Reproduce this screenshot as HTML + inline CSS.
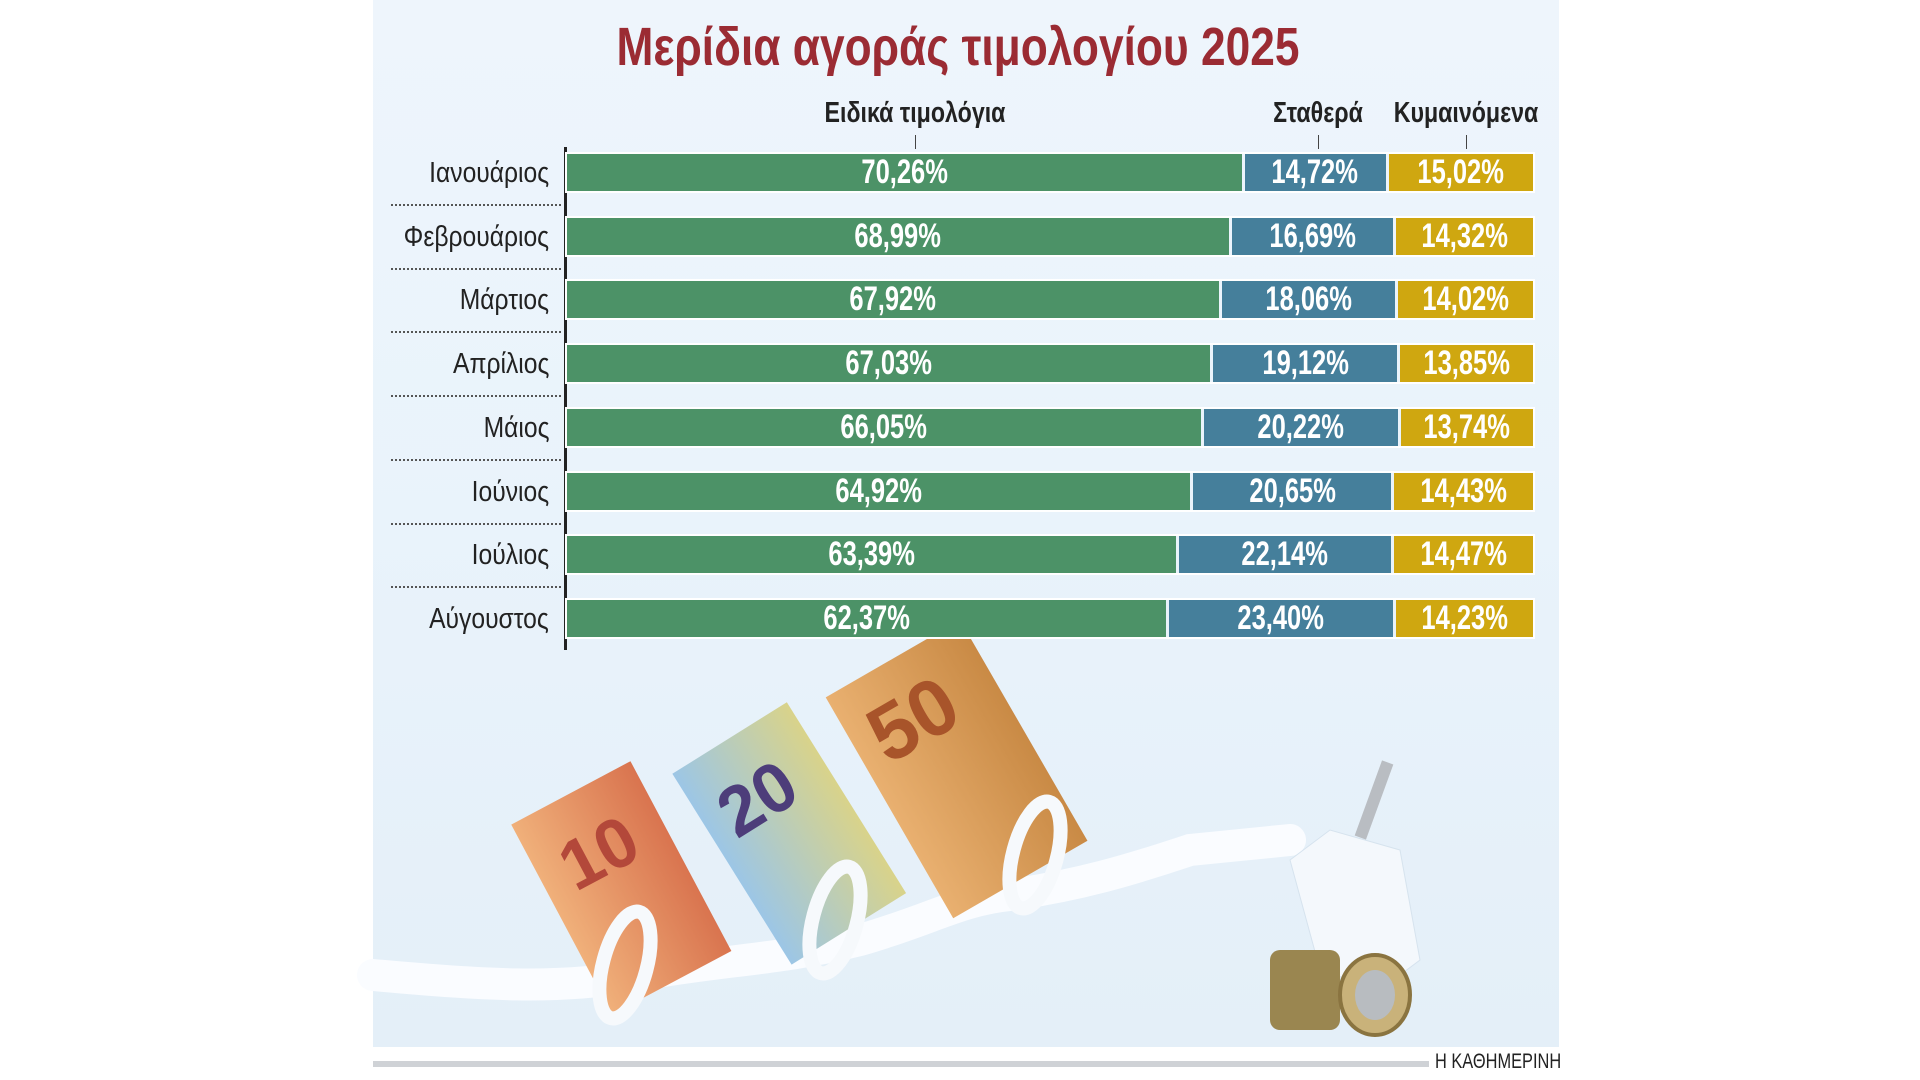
<!DOCTYPE html>
<html><head><meta charset="utf-8">
<style>
body{margin:0;width:1920px;height:1080px;background:#fff;position:relative;overflow:hidden;font-family:"Liberation Sans","DejaVu Sans",sans-serif}
#panel{position:absolute;left:373px;top:0;width:1186px;height:1047px;background:linear-gradient(180deg,#eef5fc 0%,#e9f3fb 50%,#e4eff8 100%)}
.t{position:absolute;white-space:nowrap}
.title{left:958px;top:16px;transform:translateX(-50%) scaleX(0.82);font-size:54px;font-weight:bold;color:#9b2b33}
.hdr{top:97px;font-size:29px;font-weight:bold;color:#222;transform:translateX(-50%) scaleX(0.8)}
.tick{position:absolute;width:1px;height:14px;background:#444;top:135px}
.lab{font-size:29px;color:#222;right:1371px;transform-origin:right center;transform:scaleX(0.85)}
.row{position:absolute;left:567px;width:966px;height:37px;display:flex;gap:3px;box-shadow:0 0 0 2px #fff}
.row div{height:37px;display:flex;align-items:center;justify-content:center;color:#fff;font-weight:bold;font-size:34px}
.row span{display:inline-block;transform:scaleX(0.75)}
.g{background:#4c9267}.b{background:#457f9b}.y{background:#cfa710}
.sep{position:absolute;left:391px;width:170px;border-top:2px dotted #555}
</style></head><body>
<div id="panel"></div>
<svg style="position:absolute;left:0;top:0" width="1920" height="1080">
 <defs>
  <linearGradient id="n10" x1="0" x2="1"><stop offset="0" stop-color="#f0b07a"/><stop offset="1" stop-color="#d9744f"/></linearGradient>
  <linearGradient id="n20" x1="0" x2="1"><stop offset="0" stop-color="#9cc6e6"/><stop offset="1" stop-color="#d9d38a"/></linearGradient>
  <linearGradient id="n50" x1="0" x2="1"><stop offset="0" stop-color="#e9b070"/><stop offset="1" stop-color="#c98a45"/></linearGradient>
 </defs>
 <path d="M373 975 C480 985 560 990 640 975 C720 960 780 960 860 940 C930 920 960 900 1010 895 C1080 885 1130 870 1190 850 L1290 840" stroke="#fafcff" stroke-width="32" fill="none" stroke-linecap="round"/>
 <g transform="rotate(-28 620 880)"><rect x="550" y="780" width="135" height="215" fill="url(#n10)"/><text x="575" y="870" font-size="70" font-weight="bold" fill="#b3483a">10</text></g>
 <g transform="rotate(-32 790 830)"><rect x="720" y="720" width="135" height="225" fill="url(#n20)"/><text x="740" y="810" font-size="70" font-weight="bold" fill="#4d3d7a">20</text></g>
 <g transform="rotate(-30 960 770)"><rect x="880" y="640" width="155" height="255" fill="url(#n50)"/><text x="900" y="730" font-size="80" font-weight="bold" fill="#a8542a">50</text></g>
 <ellipse cx="625" cy="965" rx="22" ry="55" fill="none" stroke="#f6f9fc" stroke-width="14" transform="rotate(15 625 965)"/>
 <ellipse cx="835" cy="920" rx="22" ry="55" fill="none" stroke="#f6f9fc" stroke-width="14" transform="rotate(15 835 920)"/>
 <ellipse cx="1035" cy="855" rx="22" ry="55" fill="none" stroke="#f6f9fc" stroke-width="14" transform="rotate(15 1035 855)"/>
 <path d="M1290 860 L1330 830 L1400 850 L1420 960 L1380 990 L1320 970 Z" fill="#f4f8fc" stroke="#d6e3ee"/>
 <rect x="1368" y="760" width="12" height="80" fill="#b9bdc2" transform="rotate(20 1374 800)"/>
 <rect x="1270" y="950" width="70" height="80" rx="10" fill="#9a8650"/>
 <ellipse cx="1375" cy="995" rx="35" ry="40" fill="#c9b27a" stroke="#8a7440" stroke-width="4"/>
 <ellipse cx="1375" cy="995" rx="20" ry="25" fill="#b8bcc0"/>
 <rect x="373" y="1061" width="1056" height="6" fill="#cfd2d6"/>
</svg>
<div class="t title">Μερίδια αγοράς τιμολογίου 2025</div>
<div class="t hdr" style="left:915px">Ειδικά τιμολόγια</div>
<div class="t hdr" style="left:1318px">Σταθερά</div>
<div class="t hdr" style="left:1466px">Κυμαινόμενα</div>
<div class="tick" style="left:915px"></div><div class="tick" style="left:1318px"></div><div class="tick" style="left:1466px"></div>
<div style="position:absolute;left:564px;top:147px;width:3px;height:503px;background:#222"></div>
<div id="rows"></div>
<div class="t" style="left:1435px;top:1050px;font-size:21px;color:#222;transform-origin:left;transform:scaleX(0.78)">Η ΚΑΘΗΜΕΡΙΝΗ</div>
<script>
var d=[["Ιανουάριος",70.26,14.72,15.02],["Φεβρουάριος",68.99,16.69,14.32],["Μάρτιος",67.92,18.06,14.02],["Απρίλιος",67.03,19.12,13.85],["Μάιος",66.05,20.22,13.74],["Ιούνιος",64.92,20.65,14.43],["Ιούλιος",63.39,22.14,14.47],["Αύγουστος",62.37,23.40,14.23]];
var h="",f=function(v){return v.toFixed(2).replace(".",",")+"%"};
d.forEach(function(r,i){var top=154+i*63.7;
h+='<div class="t lab" style="top:'+(top+3)+'px">'+r[0]+'</div>';
h+='<div class="row" style="top:'+top+'px"><div class="g" style="flex:'+r[1]+'"><span>'+f(r[1])+'</span></div><div class="b" style="flex:'+r[2]+'"><span>'+f(r[2])+'</span></div><div class="y" style="flex:'+r[3]+'"><span>'+f(r[3])+'</span></div></div>';
if(i<7)h+='<div class="sep" style="top:'+(top+50)+'px"></div>';});
document.getElementById("rows").innerHTML=h;
</script>
</body></html>
